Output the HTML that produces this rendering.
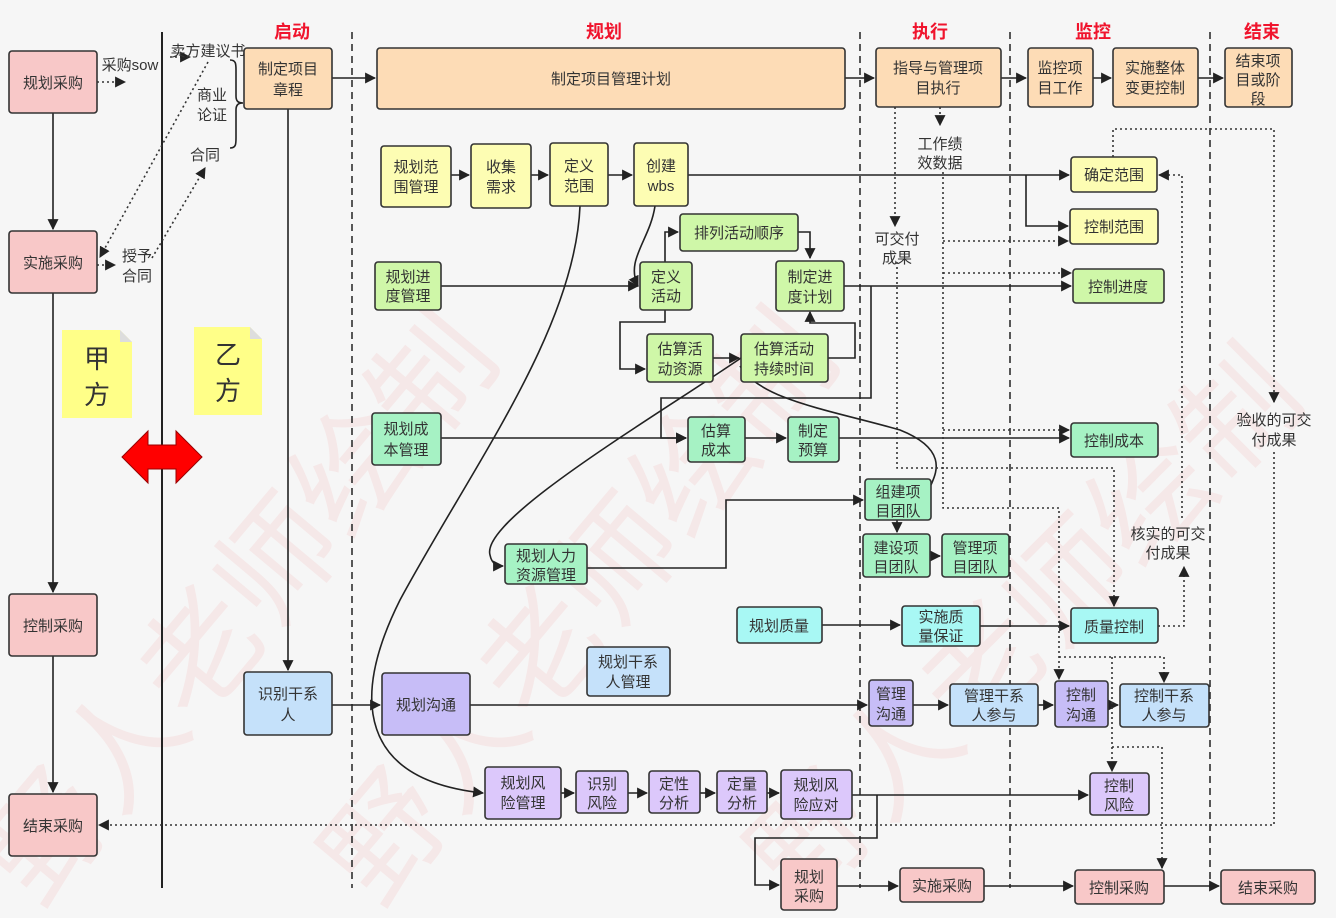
<!DOCTYPE html>
<html><head><meta charset="utf-8"><style>
html,body{margin:0;padding:0;background:#f6f6f6;}
svg{display:block;font-family:"Liberation Sans","Noto Sans CJK SC",sans-serif;}
.b{stroke:#333;stroke-width:1.6;rx:3;}
.t{font-size:15px;fill:#333;text-anchor:middle;}
.l{font-size:15px;fill:#333;text-anchor:middle;}
.h{font-size:18px;fill:#f0142d;font-weight:bold;text-anchor:middle;}
.s{stroke:#222;stroke-width:1.6;fill:none;}
.d{stroke:#333;stroke-width:1.6;fill:none;stroke-dasharray:2 3;}
.dash{stroke:#222;stroke-width:1.5;stroke-dasharray:7 5;}
</style></head><body>
<svg width="1336" height="918" viewBox="0 0 1336 918" xmlns="http://www.w3.org/2000/svg">
<defs>
<marker id="a" viewBox="0 0 10 10" refX="9" refY="5" markerWidth="11" markerHeight="11" orient="auto" markerUnits="userSpaceOnUse"><path d="M0,0L10,5L0,10z" fill="#222"/></marker>
</defs>
<rect width="1336" height="918" fill="#f6f6f6"/>
<g font-size="120" fill="#f2b8b8" opacity="0.22" font-family="Noto Sans CJK SC,sans-serif">
<text transform="translate(40,910) rotate(-50)">野人老师绘制</text>
<text transform="translate(380,910) rotate(-50)">野人老师绘制</text>
<text transform="translate(800,910) rotate(-45)">野人老师绘制</text>
</g>
<line x1="162" y1="32" x2="162" y2="888" stroke="#222" stroke-width="2"/>
<line x1="352" y1="32" x2="352" y2="888" class="dash"/>
<line x1="860" y1="32" x2="860" y2="888" class="dash"/>
<line x1="1010" y1="32" x2="1010" y2="888" class="dash"/>
<line x1="1210" y1="32" x2="1210" y2="888" class="dash"/>
<text x="292" y="38" class="h">启动</text>
<text x="604" y="38" class="h">规划</text>
<text x="930" y="38" class="h">执行</text>
<text x="1093" y="38" class="h">监控</text>
<text x="1262" y="38" class="h">结束</text>

<g class="s">
<path d="M53,113V229" marker-end="url(#a)"/>
<path d="M53,293V592" marker-end="url(#a)"/>
<path d="M53,656V792" marker-end="url(#a)"/>
<path d="M332,78H375" marker-end="url(#a)"/>
<path d="M845,78H874" marker-end="url(#a)"/>
<path d="M1001,78H1026" marker-end="url(#a)"/>
<path d="M1093,78H1111" marker-end="url(#a)"/>
<path d="M1198,78H1223" marker-end="url(#a)"/>
<path d="M288,109V670" marker-end="url(#a)"/>
<path d="M451,175H469" marker-end="url(#a)"/>
<path d="M531,175H548" marker-end="url(#a)"/>
<path d="M608,175H632" marker-end="url(#a)"/>
<path d="M688,175H1069" marker-end="url(#a)"/>
<path d="M1026,175V226H1068" marker-end="url(#a)"/>
<path d="M441,286H638" marker-end="url(#a)"/>
<path d="M655,206C650,240 625,260 638,286" marker-end="url(#a)"/>
<path d="M665,262V232H678" marker-end="url(#a)"/>
<path d="M798,232H810V258" marker-end="url(#a)"/>
<path d="M665,310V322H620V369H645" marker-end="url(#a)"/>
<path d="M713,358H739" marker-end="url(#a)"/>
<path d="M828,358H855V323H810V312" marker-end="url(#a)"/>
<path d="M844,286H1071" marker-end="url(#a)"/>
<path d="M871,286V398H661V438H686" marker-end="url(#a)"/>
<path d="M441,438H686" marker-end="url(#a)"/>
<path d="M745,438H786" marker-end="url(#a)"/>
<path d="M839,438H1069" marker-end="url(#a)"/>
<path d="M580,206C575,330 470,470 400,600C350,700 360,780 483,793" marker-end="url(#a)"/>
<path d="M741,358C650,420 480,520 490,555C492,565 498,566 503,566" marker-end="url(#a)"/>
<path d="M740,366C760,400 830,410 900,430C950,450 935,475 931,485"/>
<path d="M587,568H726V500H863" marker-end="url(#a)"/>
<path d="M897,520V532" marker-end="url(#a)"/>
<path d="M930,556H940" marker-end="url(#a)"/>
<path d="M822,625H900" marker-end="url(#a)"/>
<path d="M980,626H1069" marker-end="url(#a)"/>
<path d="M332,705H380" marker-end="url(#a)"/>
<path d="M470,705H867" marker-end="url(#a)"/>
<path d="M913,705H948" marker-end="url(#a)"/>
<path d="M1038,705H1053" marker-end="url(#a)"/>
<path d="M1108,705H1118" marker-end="url(#a)"/>
<path d="M561,793H574" marker-end="url(#a)"/>
<path d="M628,793H647" marker-end="url(#a)"/>
<path d="M700,793H715" marker-end="url(#a)"/>
<path d="M767,793H779" marker-end="url(#a)"/>
<path d="M852,795H1088" marker-end="url(#a)"/>
<path d="M877,795V838H755V885H779" marker-end="url(#a)"/>
<path d="M837,886H898" marker-end="url(#a)"/>
<path d="M984,886H1073" marker-end="url(#a)"/>
<path d="M1164,886H1219" marker-end="url(#a)"/>
<path d="M230,60C236,60 236,64 236,70V96C236,101 238,103 243,103M230,148C236,148 236,144 236,138V110C236,105 238,103 243,103"/>
</g>

<g class="d">
<path d="M97,82H125" marker-end="url(#a)"/>
<path d="M97,265H115" marker-end="url(#a)"/>
<path d="M170,57H190" marker-end="url(#a)"/>
<path d="M208,62L100,257" marker-end="url(#a)"/>
<path d="M152,258L205,168" marker-end="url(#a)"/>
<path d="M895,107V226" marker-end="url(#a)"/>
<path d="M897,262V468H1114V606" marker-end="url(#a)"/>
<path d="M940,107V125" marker-end="url(#a)"/>
<path d="M943,172V508H1059V679" marker-end="url(#a)"/>
<path d="M943,241H1068" marker-end="url(#a)"/>
<path d="M943,273H1071" marker-end="url(#a)"/>
<path d="M943,430H1069" marker-end="url(#a)"/>
<path d="M1059,657H1164V682" marker-end="url(#a)"/>
<path d="M1112,657V771" marker-end="url(#a)"/>
<path d="M1112,747H1162V868" marker-end="url(#a)"/>
<path d="M1113,157V129H1274V402" marker-end="url(#a)"/>
<path d="M1274,452V825H99" marker-end="url(#a)"/>
<path d="M1182,518V175H1159" marker-end="url(#a)"/>
<path d="M1158,626H1184V567" marker-end="url(#a)"/>
</g>

<path d="M62,330H120L132,342V418H62Z" fill="#ffff88"/><path d="M120,330V342H132" fill="#ddd"/>
<text x="97" y="368" font-size="26" fill="#333" text-anchor="middle">甲</text>
<text x="97" y="404" font-size="26" fill="#333" text-anchor="middle">方</text>
<path d="M194,327H250L262,339V415H194Z" fill="#ffff88"/><path d="M250,327V339H262" fill="#ddd"/>
<text x="228" y="364" font-size="26" fill="#333" text-anchor="middle">乙</text>
<text x="228" y="400" font-size="26" fill="#333" text-anchor="middle">方</text>
<path d="M122,457L148,431V445H176V431L202,457L176,483V469H148V483Z" fill="#f00" stroke="#900" stroke-width="1"/>

<g class="l">
<text x="130" y="70">采购sow</text>
<text x="208" y="56">卖方建议书</text>
<text x="212" y="100">商业</text><text x="212" y="120">论证</text>
<text x="205" y="160">合同</text>
<text x="137" y="261">授予</text><text x="137" y="281">合同</text>
<text x="940" y="149">工作绩</text><text x="940" y="168">效数据</text>
<text x="897" y="244">可交付</text><text x="897" y="263">成果</text>
<text x="1274" y="425">验收的可交</text><text x="1274" y="445">付成果</text>
<text x="1168" y="539">核实的可交</text><text x="1168" y="558">付成果</text>
</g>

<g>
<rect x="9" y="51" width="88" height="62" fill="#f8c8c8" class="b"/><text x="53" y="88" class="t">规划采购</text>
<rect x="9" y="231" width="88" height="62" fill="#f8c8c8" class="b"/><text x="53" y="268" class="t">实施采购</text>
<rect x="9" y="594" width="88" height="62" fill="#f8c8c8" class="b"/><text x="53" y="631" class="t">控制采购</text>
<rect x="9" y="794" width="88" height="62" fill="#f8c8c8" class="b"/><text x="53" y="831" class="t">结束采购</text>
<rect x="781" y="859" width="56" height="51" fill="#f8c8c8" class="b"/><text x="809" y="882" class="t">规划</text><text x="809" y="901" class="t">采购</text>
<rect x="900" y="868" width="84" height="34" fill="#f8c8c8" class="b"/><text x="942" y="891" class="t">实施采购</text>
<rect x="1075" y="870" width="89" height="34" fill="#f8c8c8" class="b"/><text x="1119" y="893" class="t">控制采购</text>
<rect x="1221" y="870" width="94" height="34" fill="#f8c8c8" class="b"/><text x="1268" y="893" class="t">结束采购</text>
<rect x="244" y="48" width="88" height="61" fill="#fddcb6" class="b"/><text x="288" y="74" class="t">制定项目</text><text x="288" y="95" class="t">章程</text>
<rect x="377" y="48" width="468" height="61" fill="#fddcb6" class="b"/><text x="611" y="84" class="t">制定项目管理计划</text>
<rect x="876" y="48" width="125" height="59" fill="#fddcb6" class="b"/><text x="938" y="73" class="t">指导与管理项</text><text x="938" y="93" class="t">目执行</text>
<rect x="1028" y="48" width="65" height="59" fill="#fddcb6" class="b"/><text x="1060" y="73" class="t">监控项</text><text x="1060" y="93" class="t">目工作</text>
<rect x="1113" y="48" width="85" height="59" fill="#fddcb6" class="b"/><text x="1155" y="73" class="t">实施整体</text><text x="1155" y="93" class="t">变更控制</text>
<rect x="1225" y="48" width="67" height="59" fill="#fddcb6" class="b"/><text x="1258" y="66" class="t">结束项</text><text x="1258" y="85" class="t">目或阶</text><text x="1258" y="104" class="t">段</text>
<rect x="381" y="146" width="70" height="61" fill="#fdfdb3" class="b"/><text x="416" y="172" class="t">规划范</text><text x="416" y="192" class="t">围管理</text>
<rect x="471" y="144" width="60" height="64" fill="#fdfdb3" class="b"/><text x="501" y="172" class="t">收集</text><text x="501" y="192" class="t">需求</text>
<rect x="550" y="143" width="58" height="63" fill="#fdfdb3" class="b"/><text x="579" y="171" class="t">定义</text><text x="579" y="191" class="t">范围</text>
<rect x="634" y="143" width="54" height="63" fill="#fdfdb3" class="b"/><text x="661" y="171" class="t">创建</text><text x="661" y="191" class="t">wbs</text>
<rect x="1071" y="157" width="86" height="35" fill="#fdfdb3" class="b"/><text x="1114" y="180" class="t">确定范围</text>
<rect x="1070" y="209" width="88" height="35" fill="#fdfdb3" class="b"/><text x="1114" y="232" class="t">控制范围</text>
<rect x="680" y="214" width="118" height="37" fill="#cff7a8" class="b"/><text x="739" y="238" class="t">排列活动顺序</text>
<rect x="375" y="262" width="66" height="48" fill="#cff7a8" class="b"/><text x="408" y="282" class="t">规划进</text><text x="408" y="301" class="t">度管理</text>
<rect x="640" y="262" width="52" height="48" fill="#cff7a8" class="b"/><text x="666" y="282" class="t">定义</text><text x="666" y="301" class="t">活动</text>
<rect x="776" y="261" width="68" height="50" fill="#cff7a8" class="b"/><text x="810" y="282" class="t">制定进</text><text x="810" y="302" class="t">度计划</text>
<rect x="647" y="334" width="66" height="48" fill="#cff7a8" class="b"/><text x="680" y="354" class="t">估算活</text><text x="680" y="374" class="t">动资源</text>
<rect x="741" y="334" width="87" height="48" fill="#cff7a8" class="b"/><text x="784" y="354" class="t">估算活动</text><text x="784" y="374" class="t">持续时间</text>
<rect x="1073" y="269" width="91" height="34" fill="#cff7a8" class="b"/><text x="1118" y="292" class="t">控制进度</text>
<rect x="372" y="413" width="69" height="52" fill="#a6f2c4" class="b"/><text x="406" y="434" class="t">规划成</text><text x="406" y="455" class="t">本管理</text>
<rect x="688" y="417" width="57" height="45" fill="#a6f2c4" class="b"/><text x="716" y="436" class="t">估算</text><text x="716" y="455" class="t">成本</text>
<rect x="788" y="417" width="51" height="45" fill="#a6f2c4" class="b"/><text x="813" y="436" class="t">制定</text><text x="813" y="455" class="t">预算</text>
<rect x="1071" y="423" width="87" height="34" fill="#a6f2c4" class="b"/><text x="1114" y="446" class="t">控制成本</text>
<rect x="865" y="479" width="66" height="41" fill="#a6f2c4" class="b"/><text x="898" y="497" class="t">组建项</text><text x="898" y="516" class="t">目团队</text>
<rect x="863" y="534" width="67" height="43" fill="#a6f2c4" class="b"/><text x="896" y="553" class="t">建设项</text><text x="896" y="572" class="t">目团队</text>
<rect x="942" y="534" width="67" height="43" fill="#a6f2c4" class="b"/><text x="975" y="553" class="t">管理项</text><text x="975" y="572" class="t">目团队</text>
<rect x="505" y="544" width="82" height="40" fill="#a6f2c4" class="b"/><text x="546" y="561" class="t">规划人力</text><text x="546" y="580" class="t">资源管理</text>
<rect x="737" y="607" width="85" height="36" fill="#a8f8f4" class="b"/><text x="779" y="631" class="t">规划质量</text>
<rect x="902" y="606" width="78" height="40" fill="#a8f8f4" class="b"/><text x="941" y="622" class="t">实施质</text><text x="941" y="641" class="t">量保证</text>
<rect x="1071" y="608" width="87" height="35" fill="#a8f8f4" class="b"/><text x="1114" y="632" class="t">质量控制</text>
<rect x="244" y="672" width="88" height="63" fill="#c5e1fa" class="b"/><text x="288" y="699" class="t">识别干系</text><text x="288" y="720" class="t">人</text>
<rect x="587" y="647" width="83" height="49" fill="#c5e1fa" class="b"/><text x="628" y="667" class="t">规划干系</text><text x="628" y="687" class="t">人管理</text>
<rect x="950" y="684" width="88" height="42" fill="#c5e1fa" class="b"/><text x="994" y="701" class="t">管理干系</text><text x="994" y="720" class="t">人参与</text>
<rect x="1120" y="684" width="89" height="43" fill="#c5e1fa" class="b"/><text x="1164" y="701" class="t">控制干系</text><text x="1164" y="720" class="t">人参与</text>
<rect x="382" y="673" width="88" height="62" fill="#c7bdf7" class="b"/><text x="426" y="710" class="t">规划沟通</text>
<rect x="869" y="680" width="44" height="46" fill="#c7bdf7" class="b"/><text x="891" y="699" class="t">管理</text><text x="891" y="719" class="t">沟通</text>
<rect x="1055" y="681" width="53" height="46" fill="#c7bdf7" class="b"/><text x="1081" y="700" class="t">控制</text><text x="1081" y="720" class="t">沟通</text>
<rect x="485" y="767" width="76" height="52" fill="#dcc8fb" class="b"/><text x="523" y="788" class="t">规划风</text><text x="523" y="808" class="t">险管理</text>
<rect x="576" y="771" width="52" height="42" fill="#dcc8fb" class="b"/><text x="602" y="789" class="t">识别</text><text x="602" y="808" class="t">风险</text>
<rect x="649" y="771" width="51" height="42" fill="#dcc8fb" class="b"/><text x="674" y="789" class="t">定性</text><text x="674" y="808" class="t">分析</text>
<rect x="717" y="771" width="50" height="42" fill="#dcc8fb" class="b"/><text x="742" y="789" class="t">定量</text><text x="742" y="808" class="t">分析</text>
<rect x="781" y="770" width="71" height="49" fill="#dcc8fb" class="b"/><text x="816" y="790" class="t">规划风</text><text x="816" y="810" class="t">险应对</text>
<rect x="1090" y="773" width="59" height="42" fill="#dcc8fb" class="b"/><text x="1119" y="791" class="t">控制</text><text x="1119" y="810" class="t">风险</text>
</g>
</svg>
</body></html>
